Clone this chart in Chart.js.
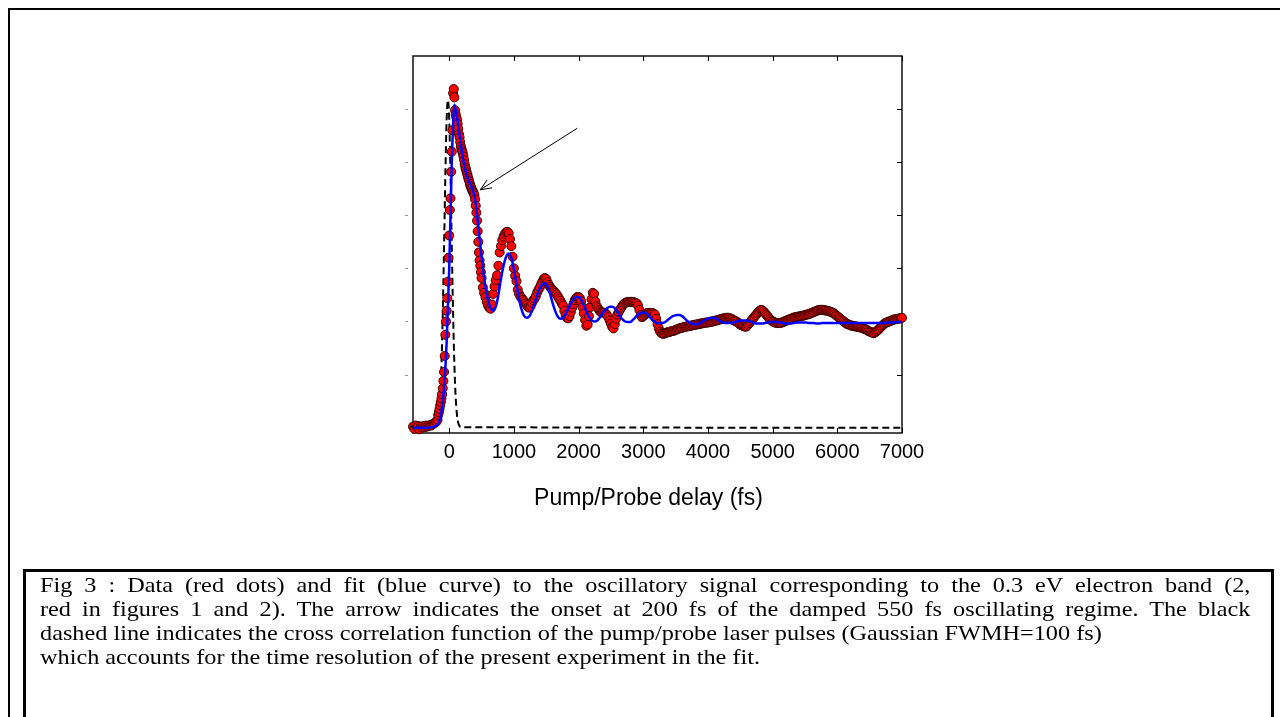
<!DOCTYPE html>
<html>
<head>
<meta charset="utf-8">
<script src="https://cdn.jsdelivr.net/npm/chart.js@4.4.0/dist/chart.umd.min.js"></script>
<style>
  html, body { margin: 0; padding: 0; background: #fff; }
  #page { position: relative; width: 1280px; height: 717px; overflow: hidden; }
  #frame { position: absolute; left: 8px; top: 8px; width: 1300px; height: 730px;
    border-top: 2px solid #000; border-left: 2px solid #000; }
  #chartBox { position: absolute; left: 0; top: 0; width: 1280px; height: 717px; }
  #caption { position: absolute; left: 23px; top: 569px; width: 1245px; height: 170px;
    border: 3px solid #000; font-family: "Liberation Serif", "Times New Roman", serif;
    font-size: 21px; line-height: 24px; color: #000; }
  #captionText { position: absolute; left: 14px; top: 1px; width: 1048px;
    transform: scaleX(1.155); transform-origin: 0 0; }
  #captionText div { white-space: nowrap; height: 24px; }
  #captionText .just { text-align: justify; text-align-last: justify; }
</style>
</head>
<body>
<div id="page">
  <div id="frame"></div>
  <div id="chartBox"><canvas id="chartCanvas"></canvas></div>
  <div id="caption">
    <div id="captionText">
      <div class="just">Fig 3 : Data (red dots) and fit (blue curve) to the oscillatory signal corresponding to the 0.3 eV electron band (2,</div>
      <div class="just">red in figures 1 and 2). The arrow indicates the onset at 200 fs of the damped 550 fs oscillating regime. The black</div>
      <div>dashed line indicates the cross correlation function of the pump/probe laser pulses (Gaussian FWMH=100 fs)</div>
      <div>which accounts for the time resolution of the present experiment in the fit.</div>
    </div>
  </div>
</div>
<script>
// measured signal (red dots), three sampling segments
const preStart = -560, preStep = 20;
const signalPre = [
  0.02, -0.02, 0.04, 0.01, 0.03, -0.03, 0.02, 0.00, 0.03, 0.01,
  0.04, 0.02, 0.03, 0.05, 0.04, 0.06, 0.08, 0.09, 0.11, 0.15
];
const riseStart = -170, riseStep = 10;
const signalRise = [
  0.24, 0.29, 0.35, 0.42, 0.48, 0.55, 0.63, 0.74, 0.88, 1.05,
  1.35, 1.75, 2.00, 2.20, 2.44, 2.75, 3.20, 3.62, 4.10, 4.32,
  4.82, 5.20, 5.60, 6.30, 6.38, 6.22, 5.98, 5.90, 5.85, 5.80,
  5.72, 5.63, 5.53, 5.47, 5.38, 5.30, 5.25, 5.21, 5.17, 5.11,
  5.04, 4.96, 4.90, 4.86, 4.81, 4.77, 4.72, 4.68, 4.64, 4.59,
  4.55, 4.52, 4.49, 4.46, 4.44, 4.41, 4.37, 4.30, 4.18, 4.05,
  3.90, 3.70, 3.50, 3.30, 3.15, 3.05, 2.93, 2.82
];
const tailStart = 520, tailStep = 20;
const signalTail = [
  2.64, 2.54, 2.46, 2.37, 2.30, 2.26, 2.24, 2.32, 2.52, 2.66,
  2.78, 2.87, 3.05, 3.30, 3.42, 3.53, 3.60, 3.65, 3.68, 3.69,
  3.66, 3.55, 3.42, 3.22, 3.00, 2.86, 2.76, 2.60, 2.52, 2.47,
  2.44, 2.41, 2.38, 2.34, 2.31, 2.27, 2.26, 2.29, 2.35, 2.40,
  2.43, 2.48, 2.55, 2.60, 2.64, 2.70, 2.75, 2.80, 2.82, 2.80,
  2.74, 2.69, 2.65, 2.62, 2.59, 2.57, 2.54, 2.51, 2.47, 2.43,
  2.39, 2.34, 2.30, 2.20, 2.12, 2.07, 2.06, 2.10, 2.18, 2.26,
  2.33, 2.40, 2.44, 2.46, 2.46, 2.44, 2.38, 2.27, 2.15, 2.03,
  1.92, 1.94, 2.10, 2.27, 2.42, 2.54, 2.52, 2.38, 2.29, 2.25,
  2.21, 2.18, 2.17, 2.17, 2.16, 2.15, 2.12, 2.08, 2.02, 1.96,
  1.90, 1.87, 1.95, 2.05, 2.13, 2.18, 2.22, 2.26, 2.30, 2.33,
  2.35, 2.36, 2.37, 2.37, 2.37, 2.37, 2.37, 2.36, 2.35, 2.34,
  2.30, 2.22, 2.12, 2.08, 2.10, 2.12, 2.14, 2.16, 2.16, 2.16,
  2.16, 2.16, 2.15, 2.13, 2.05, 1.95, 1.87, 1.81, 1.78, 1.77,
  1.77, 1.78, 1.79, 1.80, 1.80, 1.81, 1.82, 1.82, 1.83, 1.84,
  1.85, 1.86, 1.87, 1.88, 1.88, 1.89, 1.90, 1.90, 1.91, 1.91,
  1.92, 1.92, 1.93, 1.93, 1.94, 1.94, 1.95, 1.95, 1.96, 1.96,
  1.97, 1.97, 1.98, 1.98, 1.98, 1.99, 1.99, 2.00, 2.00, 2.01,
  2.02, 2.02, 2.03, 2.04, 2.04, 2.05, 2.06, 2.06, 2.07, 2.07,
  2.07, 2.06, 2.05, 2.04, 2.02, 2.01, 2.00, 1.98, 1.96, 1.94,
  1.93, 1.92, 1.91, 1.90, 1.91, 1.94, 1.97, 2.00, 2.03, 2.06,
  2.09, 2.12, 2.15, 2.18, 2.20, 2.22, 2.21, 2.19, 2.16, 2.13,
  2.10, 2.07, 2.04, 2.02, 2.00, 1.99, 1.98, 1.97, 1.97, 1.97,
  1.97, 1.98, 1.99, 2.00, 2.01, 2.02, 2.03, 2.04, 2.05, 2.06,
  2.07, 2.08, 2.08, 2.09, 2.09, 2.10, 2.10, 2.11, 2.11, 2.12,
  2.13, 2.13, 2.14, 2.15, 2.16, 2.17, 2.18, 2.19, 2.20, 2.21,
  2.22, 2.22, 2.22, 2.22, 2.21, 2.21, 2.20, 2.20, 2.19, 2.18,
  2.17, 2.16, 2.14, 2.12, 2.10, 2.08, 2.06, 2.04, 2.02, 2.00,
  1.98, 1.96, 1.95, 1.94, 1.93, 1.92, 1.92, 1.91, 1.91, 1.90,
  1.90, 1.89, 1.89, 1.88, 1.87, 1.86, 1.85, 1.84, 1.82, 1.81,
  1.80, 1.79, 1.78, 1.79, 1.81, 1.83, 1.85, 1.88, 1.90, 1.93,
  1.95, 1.97, 1.98, 1.99, 2.00, 2.01, 2.02, 2.03, 2.04, 2.04,
  2.05, 2.05, 2.06, 2.06, 2.07
];

// fit (blue curve)
const fitStart = -560, fitStep = 40;
const fitValues = [
  0.00, 0.00, 0.00, 0.00, 0.00, 0.00, 0.00, 0.01, 0.02, 0.04,
  0.10, 0.30, 0.75, 1.60, 3.00, 5.00, 6.08, 5.85, 5.50, 5.15,
  4.90, 4.72, 4.60, 4.48, 4.30, 3.90, 3.45, 3.00, 2.65, 2.40,
  2.25, 2.20, 2.28, 2.50, 2.80, 3.05, 3.22, 3.28, 3.20, 2.98,
  2.70, 2.42, 2.22, 2.10, 2.07, 2.10, 2.20, 2.34, 2.50, 2.62,
  2.70, 2.72, 2.66, 2.52, 2.34, 2.19, 2.09, 2.05, 2.07, 2.14,
  2.24, 2.34, 2.42, 2.46, 2.46, 2.41, 2.31, 2.19, 2.09, 2.02,
  2.00, 2.01, 2.06, 2.13, 2.20, 2.25, 2.28, 2.28, 2.25, 2.18,
  2.10, 2.04, 2.00, 1.99, 1.99, 2.03, 2.08, 2.13, 2.16, 2.17,
  2.16, 2.12, 2.06, 2.01, 1.98, 1.97, 1.97, 1.98, 2.01, 2.05,
  2.09, 2.11, 2.12, 2.12, 2.10, 2.06, 2.01, 1.98, 1.96, 1.95,
  1.95, 1.97, 2.00, 2.03, 2.05, 2.07, 2.07, 2.06, 2.03, 2.00,
  1.98, 1.97, 1.97, 1.97, 1.98, 2.00, 2.01, 2.02, 2.02, 2.02,
  2.01, 1.99, 1.97, 1.96, 1.96, 1.96, 1.97, 1.98, 1.99, 1.99,
  1.99, 1.99, 1.98, 1.97, 1.96, 1.96, 1.96, 1.97, 1.98, 1.98,
  1.98, 1.98, 1.98, 1.97, 1.97, 1.97, 1.96, 1.96, 1.97, 1.97,
  1.97, 1.97, 1.97, 1.97, 1.97, 1.97, 1.97, 1.97, 1.97, 1.97,
  1.97, 1.97, 1.97, 1.97, 1.97, 1.97, 1.97, 1.97, 1.97, 1.97,
  1.97, 1.97, 1.97, 1.98, 1.98, 1.98, 1.98, 1.99, 1.99, 1.99
];

// cross correlation (black dashed)
const xcDelays = [-560, -220, -200, -180, -160, -140, -120, -100, -80, -60, -40, -20,
  0, 20, 40, 60, 80, 100, 120, 140, 160, 180, 7000];
const xcValues = [0, 0.01, 0.03, 0.09, 0.24, 0.57, 1.18, 2.14, 3.40, 4.74, 5.80, 6.17,
  5.80, 4.74, 3.40, 2.14, 1.18, 0.57, 0.24, 0.09, 0.03, 0.01, 0];

// axis ticks
const xTickValues = [0, 1000, 2000, 3000, 4000, 5000, 6000, 7000];
const yTickValues = [1, 2, 3, 4, 5, 6];
const xTitle = "Pump/Probe delay (fs)";

// arrow (delay fs, signal)
const arrowFrom = { x: 1980, y: 5.64 };
const arrowTo = { x: 480, y: 4.48 };

function series(start, step, values) {
  return values.map((v, i) => ({ x: start + i * step, y: v }));
}

const dots = [].concat(
  series(preStart, preStep, signalPre),
  series(riseStart, riseStep, signalRise),
  series(tailStart, tailStep, signalTail)
);
const fit = series(fitStart, fitStep, fitValues);
const xc = xcDelays.map((d, i) => ({ x: d, y: xcValues[i] }));

const framePlugin = {
  id: "frame",
  beforeDatasetsDraw(chart) {
    const { ctx, chartArea: a, scales } = chart;
    const x = scales.x, y = scales.y;
    ctx.save();
    ctx.strokeStyle = "#111";
    ctx.lineWidth = 1.5;
    ctx.strokeRect(a.left, a.top, a.right - a.left, a.bottom - a.top);
    ctx.lineWidth = 1;
    ctx.strokeStyle = "#000";
    x.ticks.forEach((t) => {
      const px = Math.round(x.getPixelForValue(t.value)) + 0.5;
      ctx.beginPath();
      ctx.moveTo(px, a.bottom); ctx.lineTo(px, a.bottom - 5);
      ctx.moveTo(px, a.top); ctx.lineTo(px, a.top + 5);
      ctx.stroke();
    });
    yTickValues.forEach((v) => {
      const py = Math.round(y.getPixelForValue(v)) + 0.5;
      ctx.strokeStyle = "#000";
      ctx.beginPath();
      ctx.moveTo(a.right, py); ctx.lineTo(a.right - 5, py);
      ctx.stroke();
      ctx.strokeStyle = "#999";
      ctx.beginPath();
      ctx.moveTo(a.left - 8, py); ctx.lineTo(a.left - 5, py);
      ctx.stroke();
    });
    ctx.restore();
  },
  afterDatasetsDraw(chart) {
    const { ctx, chartArea: a, scales: { x, y } } = chart;
    const x1 = x.getPixelForValue(arrowFrom.x), y1 = y.getPixelForValue(arrowFrom.y);
    const x2 = x.getPixelForValue(arrowTo.x), y2 = y.getPixelForValue(arrowTo.y);
    const ang = Math.atan2(y2 - y1, x2 - x1);
    ctx.save();
    ctx.strokeStyle = "#000";
    ctx.lineWidth = 1;
    ctx.beginPath();
    ctx.moveTo(x1, y1); ctx.lineTo(x2, y2);
    ctx.moveTo(x2 - 12 * Math.cos(ang - 0.4), y2 - 12 * Math.sin(ang - 0.4));
    ctx.lineTo(x2, y2);
    ctx.lineTo(x2 - 12 * Math.cos(ang + 0.4), y2 - 12 * Math.sin(ang + 0.4));
    ctx.stroke();
    // axis title
    ctx.fillStyle = "#000";
    ctx.font = "23px 'Liberation Sans', Arial, sans-serif";
    ctx.textAlign = "center";
    ctx.textBaseline = "middle";
    ctx.fillText(xTitle, (a.left + a.right) / 2 - 9, a.bottom + 66);
    ctx.restore();
  }
};

new Chart(document.getElementById("chartCanvas"), {
  type: "scatter",
  data: {
    datasets: [
      {
        label: "fit", data: fit, showLine: true, order: 1,
        borderColor: "#0000ff", borderWidth: 2.5, pointRadius: 0,
        cubicInterpolationMode: "monotone", clip: false
      },
      {
        label: "data", data: dots, showLine: false, order: 2,
        backgroundColor: "#ff0000", borderColor: "#3a0000", borderWidth: 1,
        pointRadius: 4.5, clip: false
      },
      {
        label: "cross correlation", data: xc, showLine: true, order: 3,
        borderColor: "#000", borderWidth: 2, borderDash: [7, 4], pointRadius: 0,
        cubicInterpolationMode: "monotone"
      }
    ]
  },
  options: {
    responsive: true,
    maintainAspectRatio: false,
    animation: false,
    layout: { padding: { left: 413, right: 378, top: 56, bottom: 208 } },
    plugins: { legend: { display: false }, tooltip: { enabled: false } },
    scales: {
      x: {
        type: "linear", position: "bottom", min: -560, max: 7000,
        grid: { display: false, drawTicks: false },
        border: { display: false },
        afterBuildTicks(scale) { scale.ticks = xTickValues.map((v) => ({ value: v })); },
        ticks: {
          autoSkip: false, maxRotation: 0, padding: 7, color: "#000",
          callback: (v) => String(v),
          font: { family: "'Liberation Sans', Arial, sans-serif", size: 20 }
        },
        afterFit(scale) { scale.height = 76; }
      },
      y: {
        type: "linear", display: false, min: -0.1, max: 7
      }
    }
  },
  plugins: [framePlugin]
});
</script>
</body>
</html>
